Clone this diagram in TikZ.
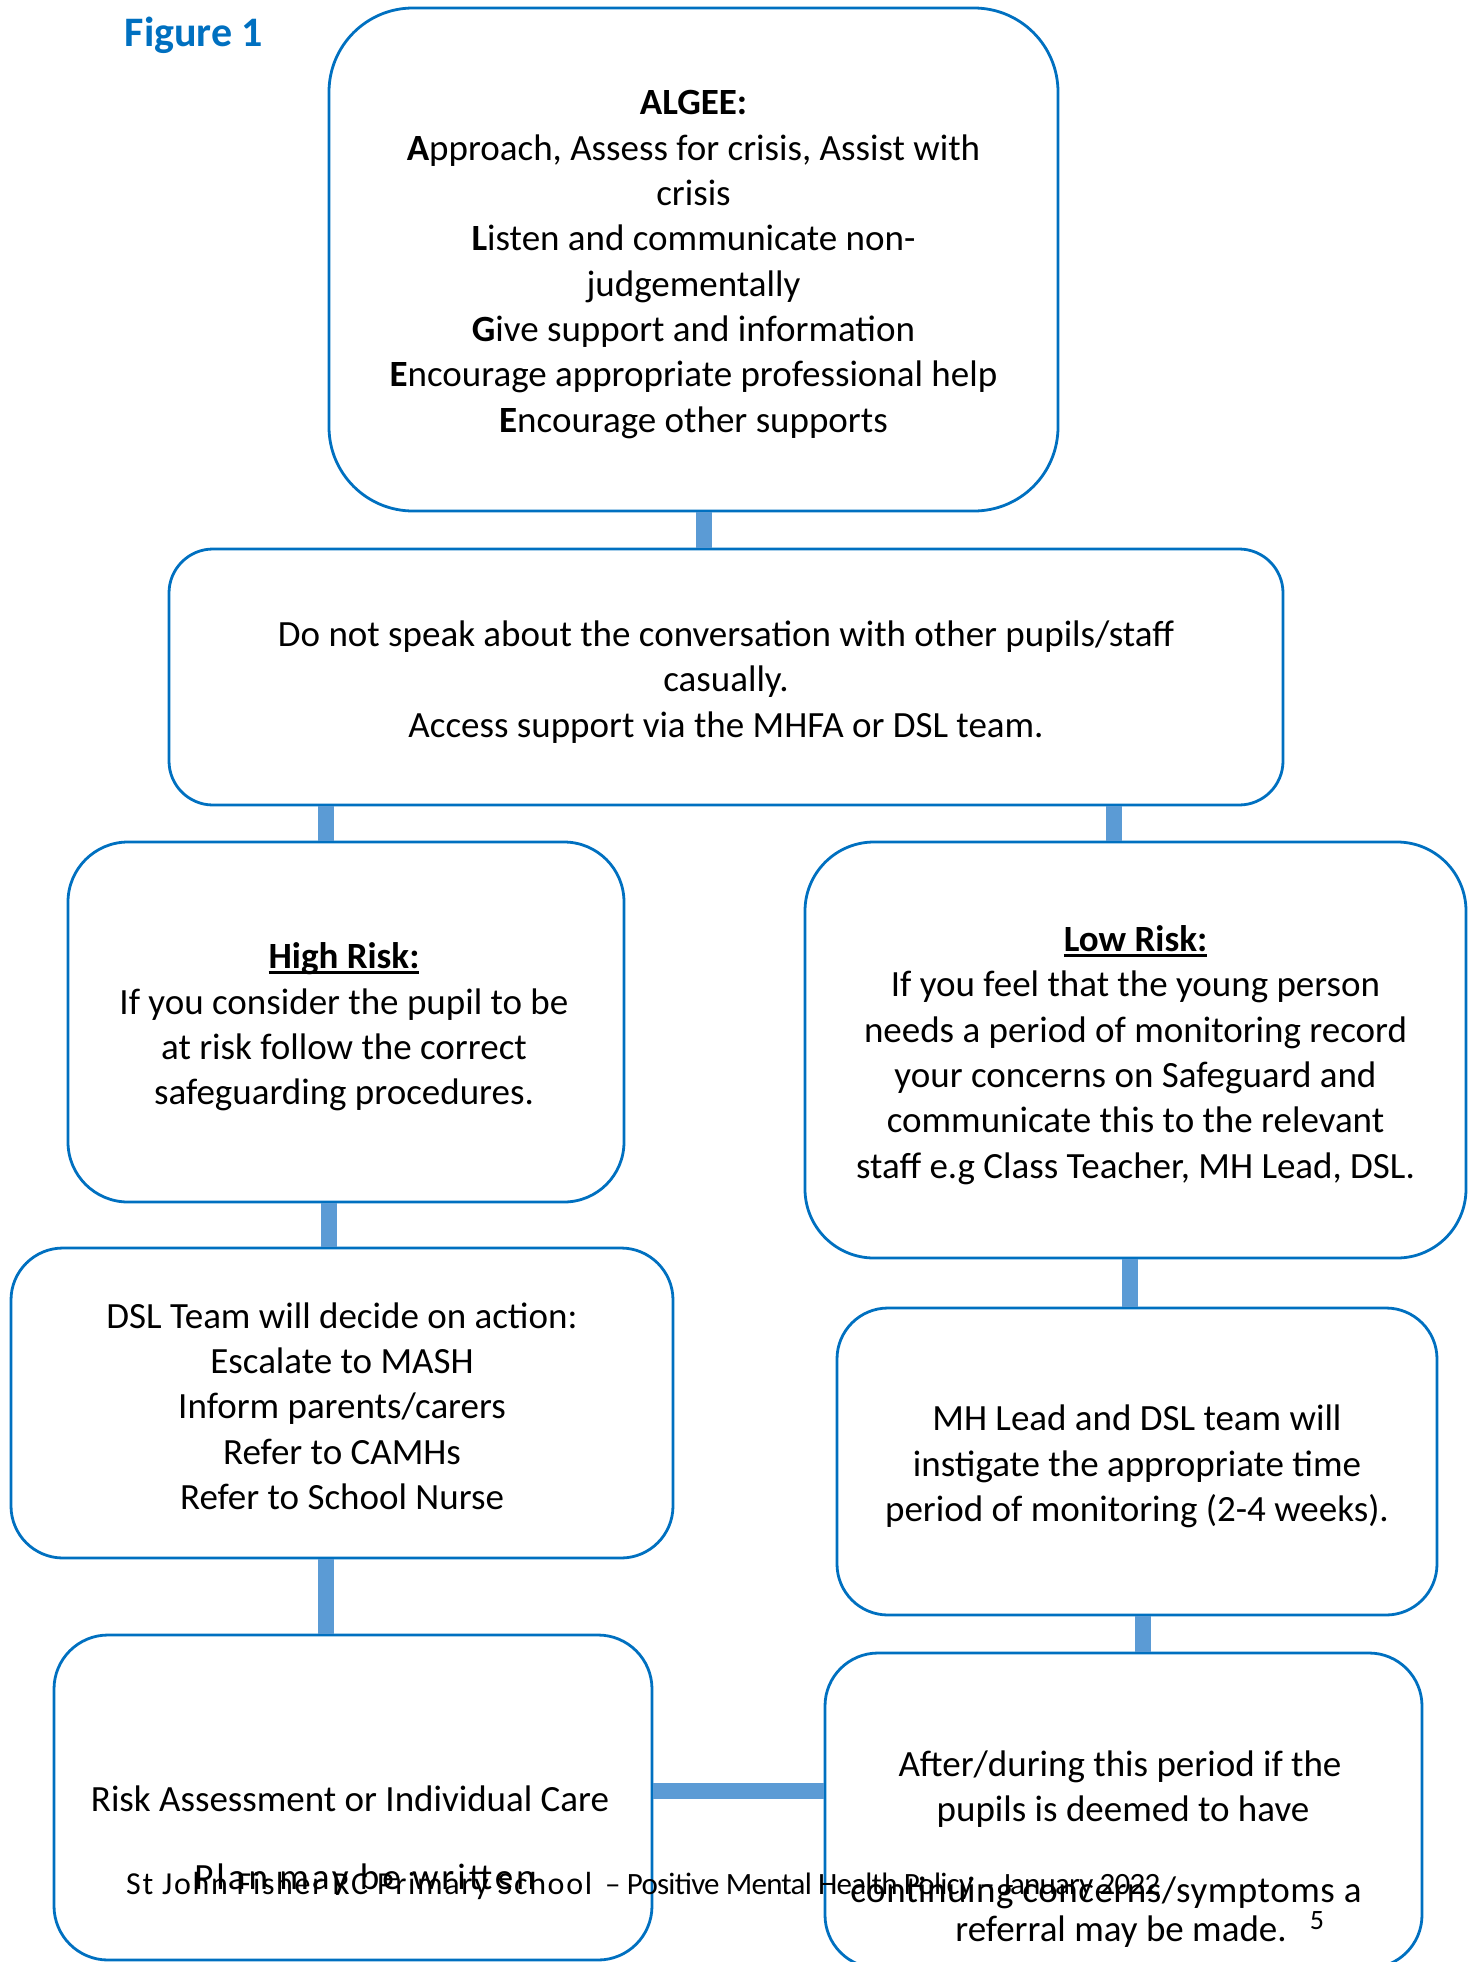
\documentclass[tikz,border=0pt]{standalone}
\usepackage{fontspec}
\setmainfont{Carlito}
\newfontfamily\spacedA[LetterSpace=5.2]{Carlito}
\newfontfamily\spacedB[LetterSpace=8]{Carlito}
\newfontfamily\spacedC[LetterSpace=1.5]{Carlito}
\newfontfamily\tightA[LetterSpace=-2.5]{Carlito}
\definecolor{boxblue}{RGB}{0,112,192}
\definecolor{linkblue}{RGB}{91,155,213}
\newcommand\ulbox[1]{\setbox0\hbox{#1}\makebox[0pt][l]{\rule[-5pt]{\wd0}{2.6pt}}\box0}
\tikzset{
  flowbox/.style={draw=boxblue, line width=2.8pt, rectangle, inner sep=0pt},
  boxtext/.style={align=center, inner sep=0pt, font=\fontsize{37}{45.3}\selectfont},
  bodytext/.style={anchor=base, inner sep=0pt, font=\fontsize{37}{45.3}\selectfont},
  link/.style={draw=linkblue, line width=16pt},
  foottext/.style={anchor=base west, inner sep=0pt},
}
\begin{document}
\begin{tikzpicture}[x=1pt,y=-1pt]
\useasboundingbox (0,0) rectangle (1473,1962);
\clip (0,0) rectangle (1473,1962);

\node[font=\fontsize{42}{50}\selectfont\bfseries, text=boxblue, inner sep=0pt] (fig) at (194,35) {Figure 1};

% boxes
\node[flowbox, minimum width=729pt, minimum height=503pt, rounded corners=84pt] (b1) at (693.5,259.5) {};
\node[flowbox, minimum width=1114pt, minimum height=256pt, rounded corners=44pt] (b2) at (726,677) {};
\node[flowbox, minimum width=556pt, minimum height=360pt, rounded corners=60pt] (b3) at (346,1022) {};
\node[flowbox, minimum width=661pt, minimum height=416pt, rounded corners=69pt] (b4) at (1135.5,1050) {};
\node[flowbox, minimum width=662pt, minimum height=310pt, rounded corners=52pt] (b5) at (342,1403) {};
\node[flowbox, minimum width=600pt, minimum height=307pt, rounded corners=51pt] (b6) at (1137,1461.5) {};
\node[flowbox, minimum width=598pt, minimum height=325pt, rounded corners=54pt] (b7) at (353,1797.5) {};
\node[flowbox, minimum width=597pt, minimum height=315pt, rounded corners=53pt] (b8) at (1123.5,1810.5) {};

% box texts
\node[boxtext] (b1t) at ([yshift=-5pt]b1.center)
 {\textbf{ALGEE:}\\
  \textbf{A}pproach, Assess for crisis, Assist with\\
  crisis\\
  \textbf{L}isten and communicate non-\\
  judgementally\\
  \textbf{G}ive support and information\\
  \textbf{E}ncourage appropriate professional help\\
  \textbf{E}ncourage other supports};

\node[boxtext] (b2t) at ([yshift=-5pt]b2.center)
 {Do not speak about the conversation with other pupils/staff\\
  casually.\\
  Access support via the MHFA or DSL team.};

\node[boxtext] (b3t) at ([xshift=-2pt,yshift=-5pt]b3.center)
 {\ulbox{\textbf{High Risk:}}\\
  If you consider the pupil to be\\
  at risk follow the correct\\
  safeguarding procedures.};

\node[boxtext] (b4t) at ([yshift=-5pt]b4.center)
 {\ulbox{\textbf{Low Risk:}}\\
  If you feel that the young person\\
  needs a period of monitoring record\\
  your concerns on Safeguard and\\
  communicate this to the relevant\\
  staff e.g Class Teacher, MH Lead, DSL.};

\node[boxtext] (b5t) at ([yshift=-3pt]b5.center)
 {DSL Team will decide on action:\\
  Escalate to MASH\\
  Inform parents/carers\\
  Refer to CAMHs\\
  Refer to School Nurse};

\node[boxtext] (b6t) at ([yshift=-5pt]b6.center)
 {MH Lead and DSL team will\\
  instigate the appropriate time\\
  period of monitoring (2-4 weeks).};

\node[bodytext] (t7a) at (350,1811) {Risk Assessment or Individual Care};
\node[bodytext, font={\spacedB\fontsize{37}{45.3}\selectfont}] (t7b) at (365,1889) {Plan may be written};

\node[bodytext] (t8a) at (1120,1776) {After/during this period if the};
\node[bodytext] (t8b) at (1123,1821) {pupils is deemed to have};
\node[bodytext, font={\spacedC\fontsize{37}{45.3}\selectfont}] (t8c) at (1106,1902) {continuing concerns/symptoms a};
\node[bodytext] (t8d) at (1121,1941) {referral may be made.};

% footer
\node[foottext, font={\spacedA\fontsize{32}{38}\selectfont}] (foot1) at (126,1894) {St John Fisher RC Primary School};
\node[foottext, font={\tightA\fontsize{31}{37}\selectfont}] (foot2) at (605,1894) {– Positive Mental Health Policy – January 2022};
\node[anchor=base, inner sep=0pt, font=\fontsize{28}{33}\selectfont] (pg) at (1317,1929) {5};

% connectors
\coordinate (k1) at ([xshift=10.5pt]b1.south);
\draw[link] (k1) -- (k1 |- b2.north);
\coordinate (k2) at ([xshift=-20pt]b3.north);
\draw[link] (k2 |- b2.south) -- (k2);
\coordinate (k3) at ([xshift=-22pt]b4.north);
\draw[link] (k3 |- b2.south) -- (k3);
\coordinate (k4) at ([xshift=-17pt]b3.south);
\draw[link] (k4) -- (k4 |- b5.north);
\coordinate (k5) at ([xshift=-6pt]b4.south);
\draw[link] (k5) -- (k5 |- b6.north);
\coordinate (k6) at ([xshift=-16pt]b5.south);
\draw[link] (k6) -- (k6 |- b7.north);
\coordinate (k7) at ([xshift=6pt]b6.south);
\draw[link] (k7) -- (k7 |- b8.north);
\coordinate (k8) at ([yshift=6.5pt]b7.east);
\draw[link] (k8) -- (k8 -| b8.west);
\end{tikzpicture}
\end{document}
